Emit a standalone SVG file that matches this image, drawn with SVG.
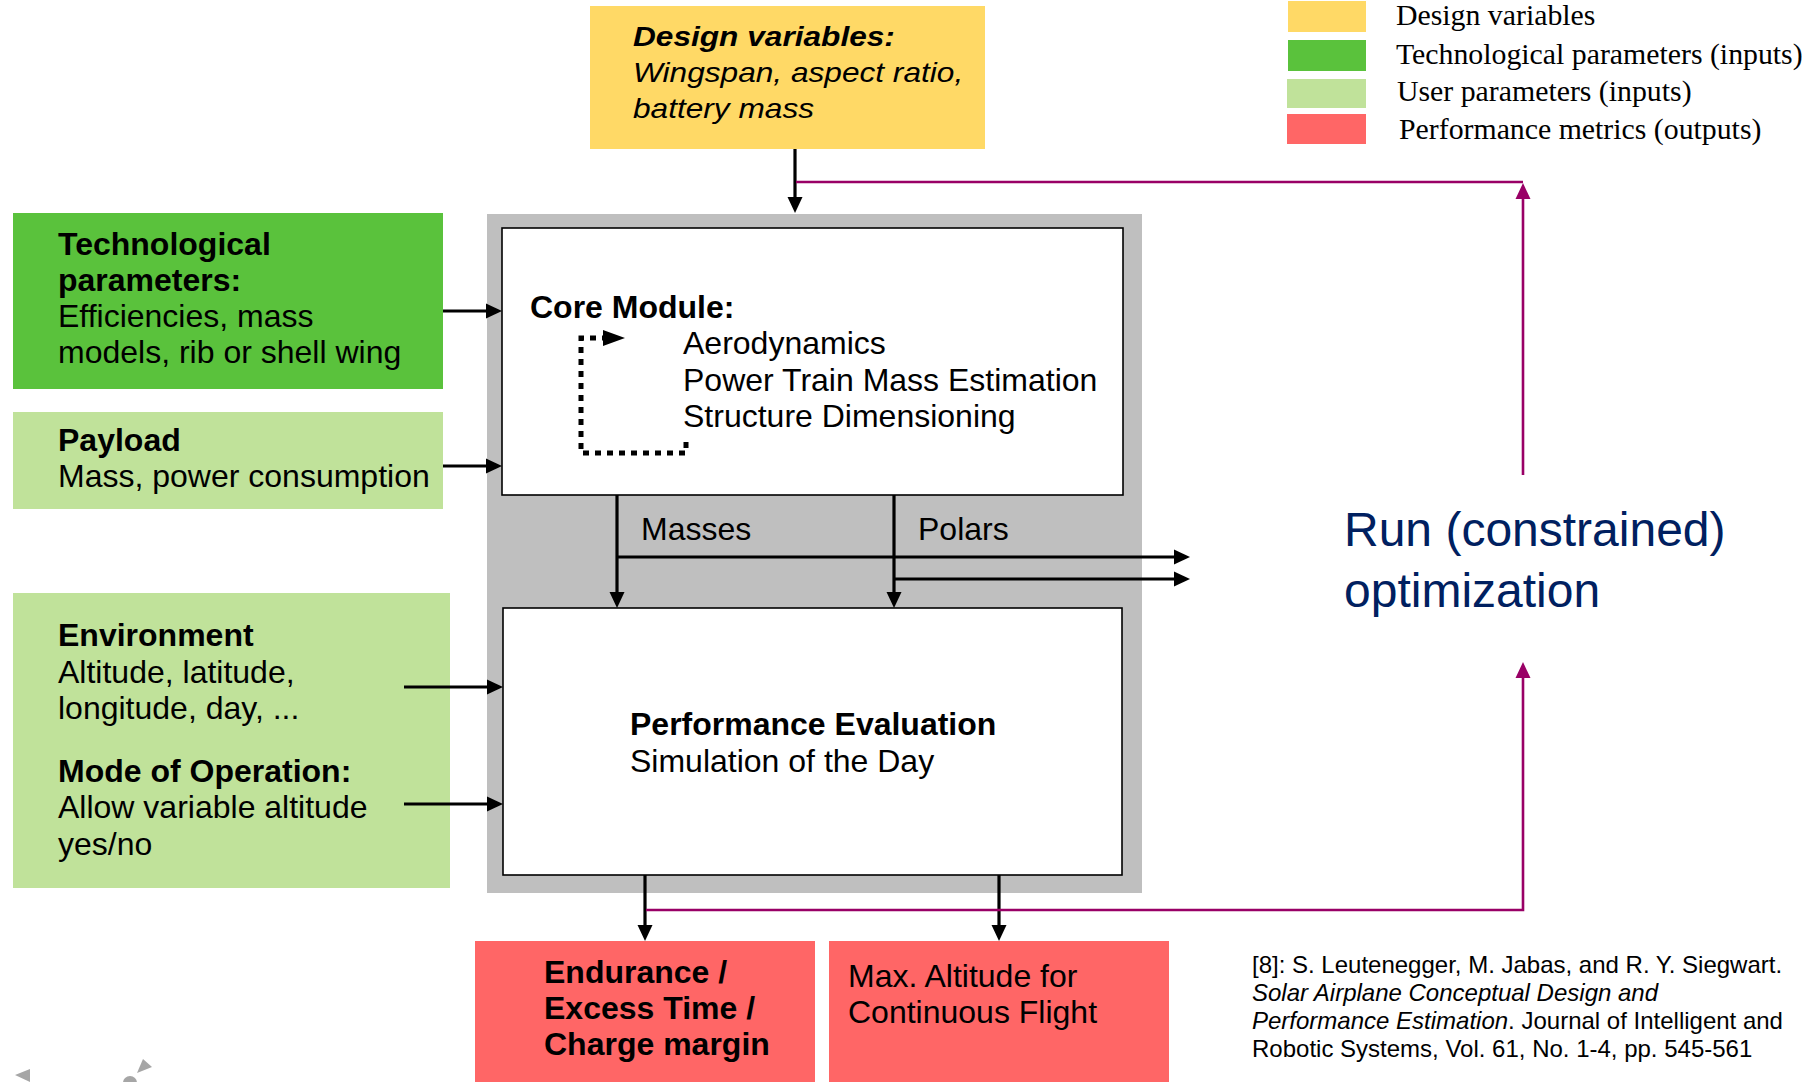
<svg xmlns="http://www.w3.org/2000/svg" width="1818" height="1082" viewBox="0 0 1818 1082">
<style>
text{font-family:"Liberation Sans",Arial,sans-serif;fill:#000}
.t{font-size:32px}
.b{font-weight:bold}
.i{font-style:italic}
.leg{font-family:"Liberation Serif","Times New Roman",serif;font-size:29.8px}
.ref{font-size:24px}
.run{font-size:48px;fill:#002060}
.blk{stroke:#000;stroke-width:3.2;fill:none}
.mag{stroke:#990066;stroke-width:2.6;fill:none}
.box{fill:#fff;stroke:#000;stroke-width:1.6}
</style>
<defs>
<marker id="ab" markerUnits="userSpaceOnUse" viewBox="0 0 16 16" markerWidth="16" markerHeight="16" refX="6" refY="8" orient="auto"><path d="M0,0.5 L16,8 L0,15.5 z" fill="#000"/></marker>
<marker id="am" markerUnits="userSpaceOnUse" viewBox="0 0 16 16" markerWidth="16" markerHeight="16" refX="6" refY="8" orient="auto"><path d="M0,0.5 L16,8 L0,15.5 z" fill="#990066"/></marker>
</defs>
<rect width="1818" height="1082" fill="#fff"/>

<g id="legend">
<rect x="1288" y="1" width="78" height="31" fill="#FFD966"/>
<rect x="1288" y="40" width="78" height="31" fill="#5AC23C"/>
<rect x="1287" y="79" width="79" height="29" fill="#C0E29A"/>
<rect x="1287" y="114" width="79" height="30" fill="#FF6666"/>
<text class="leg" x="1396" y="25">Design variables</text>
<text class="leg" x="1396" y="64">Technological parameters (inputs)</text>
<text class="leg" x="1397" y="101">User parameters (inputs)</text>
<text class="leg" x="1399" y="139">Performance metrics (outputs)</text>
</g>

<g id="design-variables">
<rect x="590" y="6" width="395" height="143" fill="#FFD966"/>
<g transform="translate(633,0) scale(1.13,1)">
<text class="b i" x="0" y="46" font-size="28">Design variables:</text>
<text class="i" x="0" y="82" font-size="28">Wingspan, aspect ratio,</text>
<text class="i" x="0" y="118" font-size="28">battery mass</text>
</g>
</g>

<g id="technological-parameters">
<rect x="13" y="213" width="430" height="176" fill="#5AC23C"/>
<text class="t b" x="58" y="255">Technological</text>
<text class="t b" x="58" y="291">parameters:</text>
<text class="t" x="58" y="327">Efficiencies, mass</text>
<text class="t" x="58" y="363">models, rib or shell wing</text>
</g>

<g id="payload">
<rect x="13" y="412" width="430" height="97" fill="#C0E29A"/>
<text class="t b" x="58" y="451">Payload</text>
<text class="t" x="58" y="487">Mass, power consumption</text>
</g>

<g id="environment">
<rect x="13" y="593" width="437" height="295" fill="#C0E29A"/>
<text class="t b" x="58" y="646">Environment</text>
<text class="t" x="58" y="683">Altitude, latitude,</text>
<text class="t" x="58" y="719">longitude, day, ...</text>
<text class="t b" x="58" y="782">Mode of Operation:</text>
<text class="t" x="58" y="818">Allow variable altitude</text>
<text class="t" x="58" y="855">yes/no</text>
</g>

<g id="model-frame">
<rect x="487" y="214" width="655" height="679" fill="#BFBFBF"/>
</g>

<g id="core-module">
<rect class="box" x="502" y="228" width="621" height="267"/>
<text class="t b" x="530" y="318">Core Module:</text>
<text class="t" x="683" y="354">Aerodynamics</text>
<text class="t" x="683" y="391">Power Train Mass Estimation</text>
<text class="t" x="683" y="427">Structure Dimensioning</text>
<path d="M686,442 V453 H581 V338 H604" fill="none" stroke="#000" stroke-width="5" stroke-dasharray="6 6"/>
<path d="M603,330 L625,338 L603,346 z" fill="#000"/>
</g>

<g id="performance-evaluation">
<rect class="box" x="503" y="608" width="619" height="267"/>
<text class="t b" x="630" y="735">Performance Evaluation</text>
<text class="t" x="630" y="772">Simulation of the Day</text>
</g>

<g id="endurance">
<rect x="475" y="941" width="340" height="141" fill="#FF6666"/>
<text class="t b" x="544" y="983">Endurance /</text>
<text class="t b" x="544" y="1019">Excess Time /</text>
<text class="t b" x="544" y="1055">Charge margin</text>
</g>

<g id="max-altitude">
<rect x="829" y="941" width="340" height="141" fill="#FF6666"/>
<text class="t" x="848" y="987">Max. Altitude for</text>
<text class="t" x="848" y="1023">Continuous Flight</text>
</g>

<g id="optimization">
<text class="run" x="1344" y="546">Run (constrained)</text>
<text class="run" x="1344" y="607">optimization</text>
</g>

<g id="reference">
<text class="ref" x="1252" y="973">[8]: S. Leutenegger, M. Jabas, and R. Y. Siegwart.</text>
<text class="ref i" x="1252" y="1001">Solar Airplane Conceptual Design and</text>
<text class="ref" x="1252" y="1029"><tspan font-style="italic">Performance Estimation</tspan>. Journal of Intelligent and</text>
<text class="ref" x="1252" y="1057">Robotic Systems, Vol. 61, No. 1-4, pp. 545-561</text>
</g>

<g id="connectors">
<line class="blk" x1="795" y1="149" x2="795" y2="203" marker-end="url(#ab)"/>
<line class="blk" x1="443" y1="311" x2="492" y2="311" marker-end="url(#ab)"/>
<line class="blk" x1="443" y1="466" x2="492" y2="466" marker-end="url(#ab)"/>
<line class="blk" x1="404" y1="687" x2="493" y2="687" marker-end="url(#ab)"/>
<line class="blk" x1="404" y1="804" x2="493" y2="804" marker-end="url(#ab)"/>
<line class="blk" x1="617" y1="495" x2="617" y2="598" marker-end="url(#ab)"/>
<line class="blk" x1="894" y1="495" x2="894" y2="598" marker-end="url(#ab)"/>
<line class="blk" x1="616" y1="557" x2="1180" y2="557" marker-end="url(#ab)"/>
<line class="blk" x1="893" y1="579" x2="1180" y2="579" marker-end="url(#ab)"/>
<line class="blk" x1="645" y1="875" x2="645" y2="931" marker-end="url(#ab)"/>
<line class="blk" x1="999" y1="875" x2="999" y2="931" marker-end="url(#ab)"/>
<line class="mag" x1="796" y1="182" x2="1523" y2="182"/>
<line class="mag" x1="1523" y1="475" x2="1523" y2="193" marker-end="url(#am)"/>
<path class="mag" d="M646,910 H1523 V672" marker-end="url(#am)"/>
<text class="t" x="641" y="540">Masses</text>
<text class="t" x="918" y="540">Polars</text>
</g>

<g id="slide-controls" fill="#A6A6A6">
<path d="M15,1075 L30,1069 L30,1082 z"/>
<circle cx="130" cy="1083" r="7"/>
<path d="M137,1073 L143,1059 L152,1067 z"/>
</g>
</svg>
